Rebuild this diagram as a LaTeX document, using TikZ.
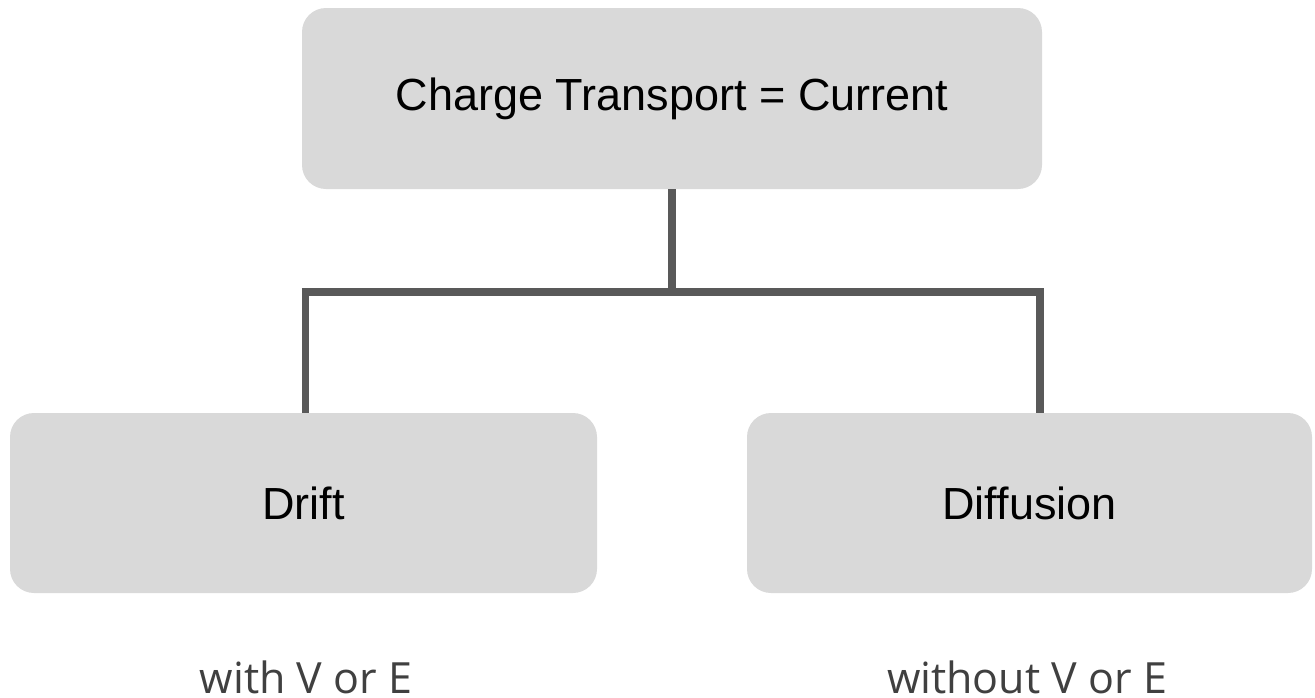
\documentclass[tikz,border=0pt]{standalone}
\usepackage{fontspec}
\setmainfont{Liberation Sans}
\newfontfamily\labelfont{Open Sans}
\definecolor{boxgray}{HTML}{D9D9D9}
\definecolor{linegray}{HTML}{595959}
\definecolor{textgray}{HTML}{404040}
\begin{document}
\begin{tikzpicture}[x=1pt,y=-1pt,
  box/.style={fill=boxgray, rounded corners=24pt, inner sep=0pt, font=\fontsize{45}{54}\selectfont},
  conn/.style={draw=linegray, line width=7.5pt},
  lbl/.style={text=textgray, font=\labelfont\fontsize{43}{52}\selectfont, inner sep=0pt, anchor=base}]
\useasboundingbox (0,0) rectangle (1315,697);
\node[box, minimum width=740pt, minimum height=181pt] (top) at (672,98.5) {Charge Transport = Current};
\node[box, minimum width=587pt, minimum height=180pt] (drift) at (303.5,503) {Drift};
\node[box, minimum width=565pt, minimum height=180pt] (diff) at (1029.5,503) {Diffusion};
\coordinate (j) at (672,292);
\coordinate (jl) at (305.5,292);
\coordinate (jr) at (1040,292);
\draw[conn] (top.south) -- (j);
\draw[conn] ([xshift=-3.75pt]jl) -- ([xshift=3.75pt]jr);
\draw[conn] (jl) -- (jl |- drift.north);
\draw[conn] (jr) -- (jr |- diff.north);
\node[lbl] (l1) at (306,693) {with V or E};
\node[lbl] (l2) at (1027,693) {without V or E};
\end{tikzpicture}
\end{document}
